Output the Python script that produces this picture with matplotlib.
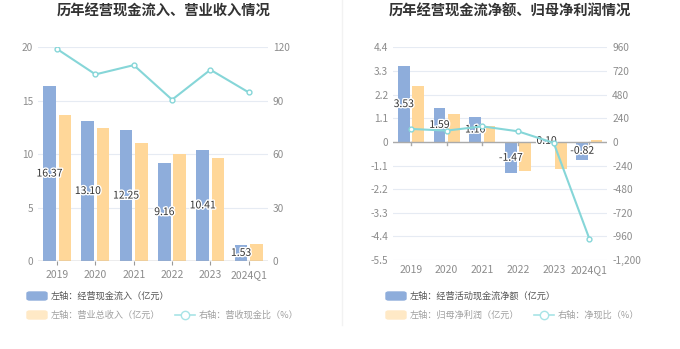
import matplotlib as mpl
mpl.use('Agg')
import matplotlib.pyplot as plt
from matplotlib.patches import FancyBboxPatch
from matplotlib.lines import Line2D
import matplotlib.patheffects as pe
import numpy as np

plt.rcParams['font.family'] = ['Noto Sans CJK SC', 'DejaVu Sans']

# data
years = ['2019', '2020', '2021', '2022', '2023', '2024Q1']
cash_in = [16.37, 13.10, 12.25, 9.16, 10.41, 1.53]
revenue = [13.64, 12.40, 11.06, 10.00, 9.63, 1.60]
cash_rev_ratio = [118.9, 104.7, 109.9, 90.5, 107.3, 94.6]

net_cash = [3.53, 1.59, 1.16, -1.47, 0.10, -0.82]
net_profit = [2.59, 1.32, 0.73, -1.37, -1.26, 0.07]
net_cash_ratio = [132, 115, 158, 108, -10, -985]

blue = '#8EADDB'
orange = '#FFD799'
teal = '#86D6D8'
grid_c = '#E6EBF3'
tick_c = '#8C8C8C'

fig = plt.figure(figsize=(6.8, 3.49), dpi=100)
x = np.arange(len(years))
w = 0.33


def style(ax, ax2):
    for a in (ax, ax2):
        for s in a.spines.values():
            s.set_visible(False)
        a.tick_params(axis='y', length=0, labelsize=7.3, colors=tick_c)
    ax.tick_params(axis='x', length=3, labelsize=7.5, colors=tick_c, color='#999999')
    ax.yaxis.grid(True, color=grid_c, lw=0.8)
    ax.set_axisbelow(True)
    ax.set_xticks(x)
    ax.set_xticklabels(years)
    ax.set_xlim(-0.5, 5.5)


def label(ax, xs, vals):
    for xi, v in zip(xs, vals):
        ax.text(xi, v / 2, f'{v:.2f}', ha='center', va='center', fontsize=7.5,
                color='#333333', zorder=5,
                path_effects=[pe.withStroke(linewidth=2, foreground='white')])


# left chart
ax = fig.add_axes([0.0559, 0.252, 0.338, 0.613])
ax2 = ax.twinx()
ax.bar(x - 0.2, cash_in, w, color=blue, zorder=2)
ax.bar(x + 0.2, revenue, w, color=orange, zorder=2)
ax.set_ylim(0, 20)
ax.set_yticks([0, 5, 10, 15, 20])
ax2.plot(x, cash_rev_ratio, color=teal, lw=1.5, marker='o', ms=3.5,
         mfc='white', mec=teal, mew=1)
ax2.set_ylim(0, 120)
ax2.set_yticks([0, 30, 60, 90, 120])
style(ax, ax2)
ax.axhline(0, color='#AAAAAA', lw=1, zorder=3)
label(ax, x - 0.2, cash_in)
fig.text(0.240, 0.968, '历年经营现金流入、营业收入情况', ha='center', va='center',
         fontsize=10.3, fontweight='bold', color='#333333')

# right chart
bx = fig.add_axes([0.578, 0.255, 0.315, 0.609])
bx2 = bx.twinx()
bx.bar(x - 0.2, net_cash, w, color=blue, zorder=2)
bx.bar(x + 0.2, net_profit, w, color=orange, zorder=2)
bx.set_ylim(-5.5, 4.4)
bx.set_yticks(np.round(np.arange(-5.5, 4.41, 1.1), 1))
bx.set_yticklabels(['-5.5', '-4.4', '-3.3', '-2.2', '-1.1', '0', '1.1', '2.2', '3.3', '4.4'])
bx2.plot(x, net_cash_ratio, color=teal, lw=1.5, marker='o', ms=3.5,
         mfc='white', mec=teal, mew=1)
bx2.set_ylim(-1200, 960)
bx2.set_yticks(range(-1200, 961, 240))
bx2.set_yticklabels(['-1,200', '-960', '-720', '-480', '-240', '0', '240', '480', '720', '960'])
style(bx, bx2)
bx.axhline(0, color='#AAAAAA', lw=1, zorder=3)
for xi in x:
    bx.plot([xi, xi], [0, -0.12], color='#AAAAAA', lw=1, zorder=3)
bx.tick_params(axis='x', length=0)
label(bx, x - 0.2, net_cash)
fig.text(0.750, 0.968, '历年经营现金流净额、归母净利润情况', ha='center', va='center',
         fontsize=10.3, fontweight='bold', color='#333333')

# divider
fig.add_artist(Line2D([342 / 680, 342 / 680], [1 - 325 / 349, 1.0], color='#F2F2F2', lw=1))

# legends
W, H = 680, 349


def legend(x0, t1, t2, t3):
    y1, y2 = 296, 315
    fig.add_artist(FancyBboxPatch((x0 / W, 1 - (y1 + 4) / H), 20 / W, 8 / H,
                                  boxstyle='round,pad=0,rounding_size=0.004', color=blue))
    fig.text((x0 + 24) / W, 1 - y1 / H, t1, fontsize=6.6, color='#555555', va='center')
    fig.add_artist(FancyBboxPatch((x0 / W, 1 - (y2 + 4) / H), 20 / W, 8 / H,
                                  boxstyle='round,pad=0,rounding_size=0.004', color='#FFE9C6'))
    fig.text((x0 + 24) / W, 1 - y2 / H, t2, fontsize=6.6, color='#A0A0A0', va='center')
    lx = x0 + 148
    fig.add_artist(Line2D([lx / W, (lx + 20) / W], [1 - y2 / H] * 2, color='#A8E4E6', lw=1.2))
    fig.add_artist(Line2D([(lx + 10) / W], [1 - y2 / H], color='#A8E4E6', marker='o',
                          ms=6, mfc='white', mew=1))
    fig.text((lx + 24) / W, 1 - y2 / H, t3, fontsize=6.6, color='#A0A0A0', va='center')


legend(27, '左轴：经营现金流入（亿元）', '左轴：营业总收入（亿元）', '右轴：营收现金比（%）')
legend(386, '左轴：经营活动现金流净额（亿元）', '左轴：归母净利润（亿元）', '右轴：净现比（%）')

plt.savefig('out.png', dpi=100)
